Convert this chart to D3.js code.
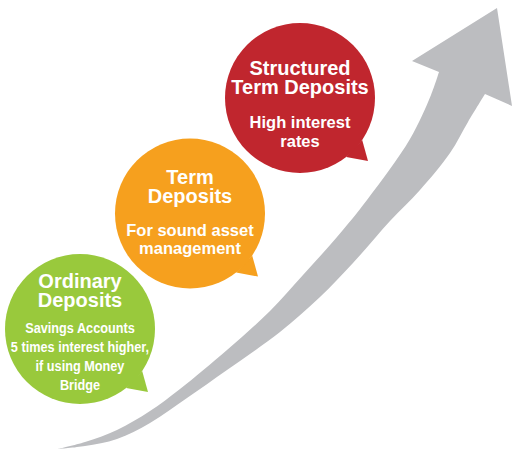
<!DOCTYPE html>
<html>
<head>
<meta charset="utf-8">
<script src="https://cdn.jsdelivr.net/npm/d3@7"></script>
<style>
  html, body { margin: 0; padding: 0; background: #ffffff; }
  svg { display: block; }
</style>
</head>
<body>
<svg id="chart" width="512" height="450"></svg>
<script>
// ---- data ----
const tiers = ["Ordinary Deposits", "Term Deposits", "Structured Term Deposits"];
const levels = [1, 2, 3];
const titleLines = [["Ordinary", "Deposits"], ["Term", "Deposits"], ["Structured", "Term Deposits"]];
const descLines = [
  ["Savings Accounts", "5 times interest higher,", "if using Money", "Bridge"],
  ["For sound asset", "management"],
  ["High interest", "rates"]
];
const tierColors = ["#99c93c", "#f6a01e", "#c0262e"];

// ---- layout (geometry, not data) ----
const W = 512, H = 450;
const R = 75;
const titleTop = [-41.5, -30, -23];   // first title baseline offset from center
const titleStep = 19.3;
const descTop = [4, 22, 30];          // first description baseline offset from center
const descStep = [19, 18.5, 18.5];
const descFont = [
  { size: 15.5, squeeze: 0.82 },
  { size: 16.5, squeeze: 1 },
  { size: 16.5, squeeze: 1 }
];
const FONT = "'Liberation Sans', Arial, Helvetica, sans-serif";

// arrow outline (upper edge tail->head, head, lower edge head->tail)
const arrowUpper = [[58,449],[85,442],[117,430],[150,411],[180,389],[227,350],[270,311],[303,275],[337,237],[367,200],[410,139],[431,95],[439,72]];
const arrowHead = [[412,61],[497,8],[512,106]];
const arrowLower = [[485,94],[468,122],[450,153],[420,190],[390,221],[353,263],[320,297],[280,332],[227,370],[187,398],[150,423],[117,439],[85,446],[58,449]];

const svg = d3.select("#chart");

const x = d3.scaleLinear().domain([1, 3]).range([80, 300]);
const y = d3.scaleLinear().domain([1, 3]).range([329, 98]);

// arrow
const edge = d3.line().curve(d3.curveCatmullRom.alpha(0.5));
const dUpper = edge(arrowUpper);
const dLower = edge(arrowLower).replace(/^M/, "L");
const dHead = arrowHead.map(p => "L" + p[0] + "," + p[1]).join("");
svg.append("path")
  .attr("d", dUpper + dHead + dLower + "Z")
  .attr("fill", "#bcbdc0");

// bubbles
const deg = Math.PI / 180;
const g = svg.selectAll("g.tier").data(levels).join("g")
  .attr("class", "tier")
  .attr("transform", d => `translate(${x(d)},${y(d)})`);

g.append("path")
  .attr("d", () => {
    const a1 = 34 * deg, a2 = 52 * deg;
    const p1 = [R * Math.cos(a1), R * Math.sin(a1)];
    const p2 = [R * Math.cos(a2), R * Math.sin(a2)];
    const tip = [68, 63];
    return `M${p1[0]},${p1[1]}L${tip[0]},${tip[1]}L${p2[0]},${p2[1]}Z`;
  })
  .attr("fill", (d, i) => tierColors[i]);

g.append("circle")
  .attr("r", R)
  .attr("fill", (d, i) => tierColors[i]);

// texts
g.each(function(d, i) {
  const sel = d3.select(this);
  titleLines[i].forEach((t, k) => {
    sel.append("text")
      .attr("x", 0)
      .attr("y", titleTop[i] + k * titleStep)
      .attr("text-anchor", "middle")
      .attr("fill", "#ffffff")
      .style("font-family", FONT)
      .style("font-weight", "bold")
      .style("font-size", "20px")
      .text(t);
  });
  descLines[i].forEach((t, k) => {
    sel.append("text")
      .attr("transform", `translate(0,${descTop[i] + k * descStep[i]}) scale(${descFont[i].squeeze},1)`)
      .attr("text-anchor", "middle")
      .attr("fill", "#ffffff")
      .style("font-family", FONT)
      .style("font-weight", "bold")
      .style("font-size", descFont[i].size + "px")
      .text(t);
  });
});
</script>
</body>
</html>
